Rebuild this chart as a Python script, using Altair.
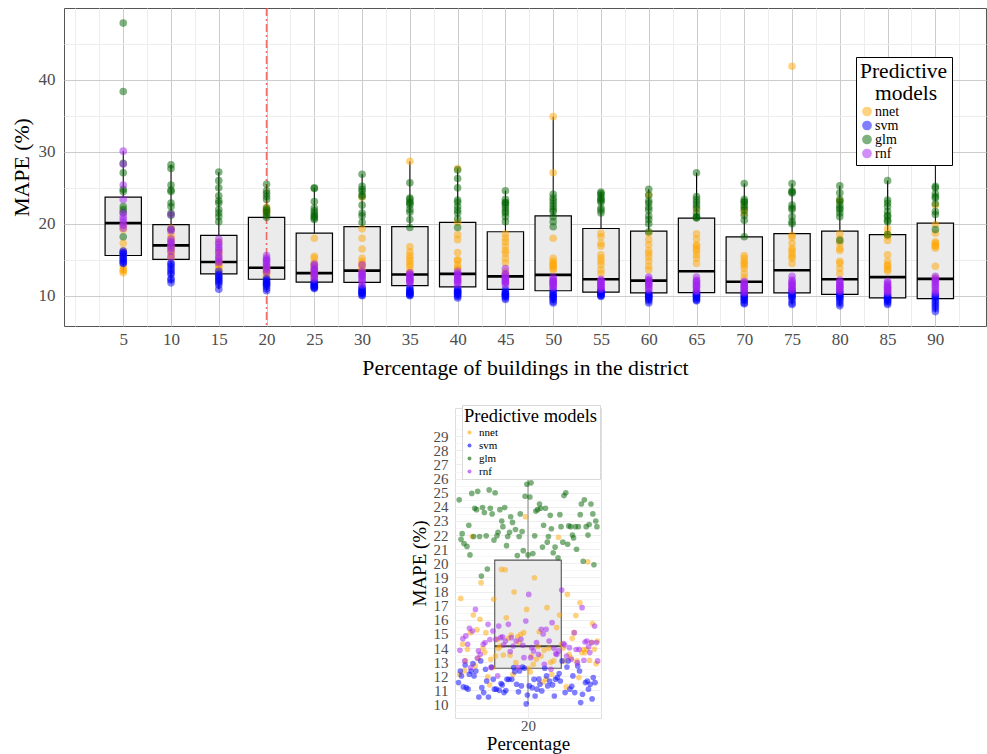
import altair as alt
import pandas as pd

FONT = "Liberation Serif"

models = ["nnet", "svm", "glm", "rnf"]
model_colors = ["#FFA500", "#0000FF", "#006400", "#A020F0"]

# ---------------- top panel: summary per percentage ----------------
categories = [5, 10, 15, 20, 25, 30, 35, 40, 45, 50, 55, 60, 65, 70, 75, 80, 85, 90]
box_q1 = [15.6, 15.05, 13.05, 12.3, 11.9, 11.85, 11.4, 11.25, 10.9, 10.7, 10.5, 10.4, 10.45, 10.4, 10.4, 10.2, 9.7, 9.6]
box_median = [20.1, 17.0, 14.7, 13.9, 13.15, 13.5, 12.95, 13.05, 12.7, 12.9, 12.3, 12.1, 13.4, 11.95, 13.55, 12.3, 12.6, 12.35]
box_q3 = [23.7, 19.9, 18.4, 20.9, 18.7, 19.6, 19.6, 20.2, 18.9, 21.1, 19.35, 19.0, 20.8, 18.2, 18.65, 19.0, 18.5, 20.1]
box_low = [13.2, 11.8, 10.9, 10.7, 11.0, 10.0, 10.0, 9.7, 9.5, 9.0, 9.9, 9.0, 9.3, 8.9, 8.8, 8.6, 8.8, 7.8]
box_high = [30.1, 28.2, 27.2, 25.5, 25.0, 26.9, 28.7, 27.7, 24.6, 34.9, 24.4, 24.8, 27.1, 25.6, 25.6, 25.3, 26.0, 28.6]

nnet_top = [
    [19.8, 19.2, 17.3, 16.3, 15.9, 14.1, 13.5, 13.2, 13.6, 15.5],
    [19.4, 18.5, 18.0, 16.9, 16.3, 15.9, 15.2, 15.6, 17.6, 16.6],
    [17.5, 15.8, 15.0, 14.5, 14.1, 13.8, 13.5, 13.1, 14.3, 16.2],
    [22.3, 21.9, 21.7, 14.0, 13.4, 13.2, 12.9, 13.8, 21.5, 12.6],
    [18.0, 15.5, 15.2, 14.6, 14.0, 13.5, 12.8, 12.5, 13.2, 14.3],
    [23.7, 19.3, 18.0, 15.2, 14.8, 14.5, 14.2, 13.9, 16.5, 13.6],
    [28.7, 16.8, 15.6, 15.2, 14.8, 14.4, 14.1, 13.5, 13.2, 16.1],
    [27.7, 20.2, 18.5, 17.8, 15.0, 14.9, 13.7, 13.9, 14.3, 16.0],
    [18.6, 18.0, 16.9, 15.9, 15.2, 14.6, 13.4, 12.9, 17.5, 16.3],
    [34.9, 27.1, 18.0, 14.8, 14.5, 14.3, 14.1, 13.8, 13.6, 15.2],
    [18.7, 17.3, 16.9, 15.7, 15.2, 14.3, 13.6, 13.1, 18.2, 14.8],
    [24.0, 18.7, 17.8, 17.1, 15.9, 14.8, 14.1, 13.6, 16.3, 15.4],
    [22.0, 17.9, 17.1, 16.9, 16.2, 15.7, 15.2, 14.5, 18.6, 16.5],
    [22.0, 15.6, 15.2, 14.8, 14.5, 13.8, 13.1, 12.5, 21.5, 14.2],
    [41.9, 18.4, 18.1, 17.3, 16.6, 15.9, 15.5, 15.2, 14.5, 16.3],
    [23.2, 18.6, 17.3, 16.6, 16.3, 14.8, 14.5, 13.8, 13.1, 17.9],
    [19.3, 18.6, 17.7, 15.7, 14.3, 14.1, 13.7, 13.4, 14.8, 18.3],
    [22.6, 19.9, 17.5, 17.3, 16.9, 16.6, 14.1, 18.7, 17.0, 12.5],
]
svm_top = [
    [16.0, 15.7, 15.4, 15.0, 14.8, 14.6, 15.2, 15.9, 14.5, 16.2],
    [14.4, 14.1, 13.5, 13.2, 13.0, 12.2, 11.8, 12.4, 13.8, 14.6],
    [13.4, 13.0, 12.6, 12.2, 12.0, 11.8, 11.5, 10.9, 12.4, 12.8],
    [12.4, 12.2, 11.9, 11.7, 11.5, 11.3, 11.0, 10.7, 12.0, 11.6],
    [12.0, 11.8, 11.6, 11.4, 11.2, 11.1, 11.0, 11.3, 11.5, 11.7],
    [11.2, 10.9, 10.7, 10.5, 10.3, 10.1, 10.0, 10.6, 11.0, 10.4],
    [11.2, 10.9, 10.6, 10.3, 10.1, 10.0, 10.5, 10.8, 10.4, 10.2],
    [11.0, 10.7, 10.5, 10.3, 10.1, 9.9, 9.7, 10.6, 10.2, 10.8],
    [10.9, 10.6, 10.4, 10.2, 10.0, 9.9, 9.7, 9.5, 10.1, 10.3],
    [10.8, 10.5, 10.3, 10.0, 9.8, 9.7, 9.5, 9.2, 9.0, 10.1],
    [10.7, 10.5, 10.4, 10.2, 10.0, 9.9, 10.3, 10.6, 10.1, 10.8],
    [10.4, 10.2, 10.0, 9.8, 9.5, 9.3, 9.0, 10.1, 9.7, 9.9],
    [10.5, 10.2, 10.0, 9.7, 9.4, 9.3, 9.9, 10.3, 9.6, 10.1],
    [10.6, 10.3, 10.0, 9.8, 9.6, 9.3, 9.0, 8.9, 10.1, 9.5],
    [10.8, 10.5, 10.2, 9.9, 9.7, 9.4, 9.0, 8.8, 10.0, 10.3],
    [10.6, 10.3, 10.0, 9.8, 9.5, 9.2, 8.9, 8.6, 10.1, 9.7],
    [10.3, 10.0, 9.8, 9.6, 9.4, 9.2, 9.0, 8.8, 9.9, 9.5],
    [10.3, 10.0, 9.7, 9.4, 9.1, 8.8, 8.5, 8.2, 7.8, 9.9],
]
glm_top = [
    [47.9, 38.4, 28.4, 27.1, 24.8, 24.5, 22.4, 22.0, 21.6, 18.2],
    [28.2, 27.7, 25.4, 24.7, 24.5, 22.9, 22.4, 21.5, 21.2, 19.2],
    [27.2, 26.0, 25.0, 23.9, 23.2, 22.9, 22.0, 21.5, 21.0, 20.3],
    [25.5, 24.6, 24.2, 23.8, 23.4, 22.2, 21.6, 21.2, 20.9, 21.9],
    [25.0, 24.9, 23.1, 22.2, 21.5, 21.2, 21.0, 20.8, 20.6, 21.8],
    [26.9, 25.2, 24.8, 24.5, 23.8, 22.6, 21.5, 21.1, 20.2, 24.0],
    [25.7, 23.6, 23.4, 23.0, 22.9, 22.0, 21.6, 20.6, 19.5, 22.6],
    [27.5, 26.3, 25.0, 23.3, 23.0, 21.9, 21.5, 20.7, 19.5, 22.4],
    [24.6, 23.4, 23.0, 22.6, 22.2, 21.5, 21.0, 20.3, 22.9, 21.8],
    [24.1, 23.6, 23.2, 22.8, 22.4, 21.7, 21.0, 20.3, 19.6, 22.0],
    [24.4, 24.2, 24.0, 23.4, 23.2, 23.0, 21.9, 21.5, 22.2, 23.6],
    [24.8, 24.0, 22.9, 22.3, 21.9, 21.1, 20.6, 20.0, 18.9, 23.2],
    [27.1, 23.8, 23.4, 23.0, 22.6, 22.2, 21.5, 21.0, 20.9, 20.8],
    [25.6, 23.4, 23.1, 22.6, 22.3, 21.9, 21.2, 20.5, 18.2, 23.0],
    [25.6, 24.6, 24.4, 24.3, 22.6, 22.2, 22.0, 21.0, 20.3, 20.0],
    [25.3, 24.3, 23.4, 23.1, 22.6, 22.2, 22.0, 21.0, 17.7, 21.5],
    [26.0, 23.3, 22.9, 22.4, 21.7, 21.2, 21.0, 20.5, 20.3, 18.5],
    [28.6, 25.2, 25.0, 23.8, 23.6, 22.8, 21.7, 21.3, 19.2, 24.2],
]
rnf_top = [
    [30.1, 28.3, 25.4, 23.4, 21.5, 20.6, 20.2, 19.4, 19.8, 21.0],
    [21.3, 19.3, 19.0, 17.9, 17.3, 17.0, 16.6, 16.2, 15.4, 17.5],
    [17.9, 17.4, 17.1, 16.7, 16.4, 16.0, 15.5, 14.8, 14.6, 15.2],
    [15.6, 15.2, 14.6, 14.4, 14.1, 13.9, 13.6, 14.9, 13.3, 15.0],
    [14.4, 14.2, 13.8, 13.5, 13.2, 12.9, 12.6, 12.3, 13.0, 13.6],
    [14.3, 13.4, 13.0, 12.7, 12.4, 12.2, 11.9, 11.5, 13.2, 12.8],
    [13.2, 12.9, 12.6, 12.3, 12.1, 11.9, 11.7, 12.5, 13.0, 12.2],
    [13.4, 13.1, 12.8, 12.6, 12.3, 12.0, 11.8, 11.5, 12.9, 12.2],
    [13.8, 12.9, 12.6, 12.3, 12.0, 11.8, 11.5, 12.4, 13.1, 11.9],
    [12.6, 12.3, 12.0, 11.8, 11.5, 11.3, 11.1, 12.2, 11.9, 11.6],
    [12.3, 12.0, 11.8, 11.5, 11.3, 11.1, 10.9, 12.1, 11.7, 11.4],
    [12.6, 12.3, 12.0, 11.8, 11.5, 11.3, 11.0, 10.8, 12.1, 11.6],
    [12.6, 12.2, 11.9, 11.6, 11.3, 11.1, 10.8, 10.6, 12.0, 11.4],
    [12.0, 11.7, 11.5, 11.3, 11.1, 10.9, 10.6, 10.4, 11.8, 11.2],
    [12.7, 12.2, 11.8, 11.6, 11.3, 11.1, 10.9, 10.7, 12.0, 11.5],
    [12.2, 11.9, 11.6, 11.4, 11.2, 11.0, 10.8, 10.6, 11.8, 11.3],
    [12.0, 11.6, 11.3, 11.1, 10.9, 10.6, 10.4, 11.8, 11.2, 10.8],
    [12.7, 12.4, 12.2, 11.8, 11.3, 11.0, 10.7, 10.4, 12.0, 11.5],
]
highlight_pct = 20

# ---------------- bottom panel: 20 % detail ----------------
detail_pct = 20
detail_q1, detail_median, detail_q3, detail_low, detail_high = 12.57, 14.13, 20.23, 10.05, 26.3

nnet_20 = [19.57, 20.11, 18.98, 18.63, 17.80, 17.97, 17.52, 16.86, 17.45, 17.21, 16.74, 16.34, 16.34, 16.15,
           15.73, 15.16, 15.09, 14.69, 14.39, 13.09, 12.15, 13.98, 13.68, 13.44, 13.28, 13.09, 14.93, 14.50,
           13.84, 13.21, 13.09, 15.09, 15.09, 15.45, 13.51, 13.14, 13.21, 13.98, 13.56, 12.97, 14.27, 13.98,
           13.44, 13.68, 12.57, 12.74, 14.27, 14.69, 13.91, 13.44, 11.96, 15.09, 14.97, 13.91, 13.09, 14.15,
           13.91, 12.85, 16.04, 11.25, 12.15, 12.15, 11.79, 12.62, 11.91, 23.3, 21.9, 21.85, 19.55, 14.4,
           14.1, 13.7, 13.3, 14.8, 12.4, 13.0, 14.6, 13.9, 12.3, 15.3, 14.0, 13.5, 12.9, 11.6, 11.4, 16.3]
svm_20 = [12.66, 12.15, 11.79, 11.39, 11.09, 10.61, 11.20, 13.09, 12.33, 12.03, 11.32, 11.09, 10.14, 10.68,
          12.03, 11.67, 11.79, 11.91, 11.44, 11.67, 12.03, 12.38, 11.20, 11.39, 11.01, 11.56, 11.20, 10.54,
          10.85, 11.79, 11.56, 12.57, 12.66, 12.74, 12.57, 12.38, 11.91, 10.85, 11.44, 11.09, 10.85, 11.09,
          11.44, 11.25, 11.67, 11.09, 10.73, 11.32, 12.38, 13.09, 11.79, 11.56, 10.97, 10.54, 10.85, 11.32,
          11.09, 10.61, 11.49, 11.67, 11.79, 13.09, 12.66, 12.62, 12.38, 12.03, 11.79, 12.38, 10.05, 12.9,
          12.2, 11.0, 10.4, 11.8, 12.5, 11.3, 10.9, 12.8]
glm_20 = [22.45, 22.2, 24.5, 25.7, 25.1, 24.8, 23.3, 22.6, 22.7, 23.9, 21.0, 20.9, 20.6, 26.15, 22.6, 22.75,
          23.7, 23.95, 22.65, 22.4, 22.1, 21.9, 25.0, 24.2, 20.6, 23.9, 22.6, 21.9, 19.9, 23.9, 19.6, 21.8,
          23.5, 21.2, 20.75, 23.8, 22.6, 20.7, 21.9, 25.0, 22.9, 24.5, 23.9, 23.5, 22.6, 24.75, 24.95, 20.4,
          23.95, 24.2, 23.8, 23.6, 22.6, 20.55, 21.4, 23.4, 21.95, 20.15, 24.7, 23.8, 21.5, 22.2, 23.0, 21.15,
          25.2, 22.6, 22.25, 22.7, 21.15, 23.0, 22.0, 21.95, 19.1, 21.35, 26.1, 21.7, 21.5, 21.65, 23.45,
          25.6, 21.9, 23.45, 21.25, 23.5, 24.2, 21.95, 22.0, 21.9]
rnf_20 = [14.86, 15.80, 15.56, 14.43, 14.03, 13.80, 14.22, 14.74, 13.09, 12.85, 12.62, 12.97, 13.32, 12.62,
          13.56, 14.22, 13.68, 14.39, 14.27, 14.03, 14.50, 14.67, 14.50, 14.62, 16.86, 17.80, 16.74, 18.11,
          15.68, 15.56, 15.33, 15.68, 15.09, 14.62, 14.27, 13.98, 14.74, 14.50, 13.80, 13.56, 13.44, 14.15,
          13.84, 15.33, 15.21, 13.91, 15.92, 15.21, 13.80, 14.50, 14.39, 13.56, 14.39, 13.21, 12.62, 13.09,
          12.50, 12.03, 13.14, 13.32, 13.28, 14.32, 13.75, 14.39, 15.0, 14.6, 13.9, 14.2, 15.4, 13.6, 14.8, 14.1]

# ---------------- tables ----------------
top_rows = []
for m, per_cat in zip(models, [nnet_top, svm_top, glm_top, rnf_top]):
    for c, vals in zip(categories, per_cat):
        for v in vals:
            top_rows.append({"pct": c, "model": m, "mape": v})
top_points = pd.DataFrame(top_rows)

top_box = pd.DataFrame({"pct": categories, "q1": box_q1, "med": box_median, "q3": box_q3,
                        "lo": box_low, "hi": box_high})

bot_rows = []
k = 0
for m, vals in zip(models, [nnet_20, svm_20, glm_20, rnf_20]):
    for v in vals:
        bot_rows.append({"model": m, "mape": v, "idx": k})
        k += 1
bottom_points = pd.DataFrame(bot_rows)
bottom_box = pd.DataFrame({"pct": [detail_pct], "q1": [detail_q1], "med": [detail_median],
                           "q3": [detail_q3], "lo": [detail_low], "hi": [detail_high]})

color_scale = alt.Scale(domain=models, range=model_colors)

# ---------------- top chart ----------------
TOP_X = alt.Scale(domain=[-1.2, 95.3], nice=False, zero=False)
TOP_Y = alt.Scale(domain=[5.8, 50], nice=False, zero=False)
BOX_HALF = 1.9
minor_x = [0] + [c - 2.5 for c in categories] + [92.5]
minor_y = [15, 25, 35, 45]

top_base_box = alt.Chart(top_box).transform_calculate(
    xlo=f"datum.pct - {BOX_HALF}", xhi=f"datum.pct + {BOX_HALF}")

boxes = top_base_box.mark_rect(fill="#EBEBEB", stroke="black", strokeWidth=1.2).encode(
    x=alt.X("xlo:Q", scale=TOP_X, axis=alt.Axis(orient="top", values=minor_x, labels=False, ticks=False,
                                                 domain=False, grid=True, gridColor="#EDEDED", title=None)),
    x2="xhi:Q",
    y=alt.Y("q1:Q", scale=TOP_Y, axis=alt.Axis(orient="right", values=minor_y, labels=False, ticks=False,
                                                domain=False, grid=True, gridColor="#EDEDED", title=None)),
    y2="q3:Q",
)
whisk_lo = alt.Chart(top_box).mark_rule(color="black", strokeWidth=1).encode(
    x=alt.X("pct:Q", scale=TOP_X, axis=None), y=alt.Y("lo:Q", scale=TOP_Y, axis=None), y2="q1:Q")
whisk_hi = alt.Chart(top_box).mark_rule(color="black", strokeWidth=1).encode(
    x=alt.X("pct:Q", scale=TOP_X, axis=None), y=alt.Y("q3:Q", scale=TOP_Y, axis=None), y2="hi:Q")
medians = top_base_box.mark_rule(color="black", strokeWidth=2.6).encode(
    x=alt.X("xlo:Q", scale=TOP_X, axis=None), x2="xhi:Q", y=alt.Y("med:Q", scale=TOP_Y, axis=None))
vline = alt.Chart(pd.DataFrame({"pct": [highlight_pct]})).mark_rule(
    color="#F03C3C", opacity=0.75, strokeWidth=1.6, strokeDash=[8, 3, 2, 3]).encode(
    x=alt.X("pct:Q", scale=TOP_X, axis=None))

top_pts = alt.Chart(top_points).mark_circle(size=58, opacity=0.5).encode(
    x=alt.X("pct:Q", scale=TOP_X,
            axis=alt.Axis(values=categories, format="d", title="Percentage of buildings in the district",
                          grid=True, gridColor="#CCCCCC", labelFont=FONT, titleFont=FONT,
                          labelFontSize=17, labelColor="#4D4D4D",
                          titleFontSize=21.8, titleColor="black", titleFontWeight="normal", ticks=False,
                          domain=False, labelPadding=5, titlePadding=10)),
    y=alt.Y("mape:Q", scale=TOP_Y,
            axis=alt.Axis(values=[10, 20, 30, 40], title="MAPE (%)", grid=True, gridColor="#CCCCCC",
                          labelFont=FONT, titleFont=FONT,
                          labelFontSize=17, labelColor="#4D4D4D", titleFontSize=21.8, titleColor="black",
                          titleFontWeight="normal", ticks=False, domain=False, labelPadding=9,
                          titlePadding=5)),
    color=alt.Color("model:N", scale=color_scale,
                    legend=alt.Legend(orient="none", legendX=792, legendY=49,
                                      title=["Predictive", "\u200b\u2002\u2009models"],
                                      titleFont=FONT, labelFont=FONT,
                                      titleFontSize=21.5, titleLineHeight=22, titleFontWeight="normal",
                                      titleAlign="left", titleAnchor="start", titleColor="black",
                                      titlePadding=0, labelFontSize=14, labelColor="black", labelOffset=1,
                                      symbolType="circle", symbolSize=95, symbolOpacity=0.5,
                                      symbolStrokeWidth=0, rowPadding=0, padding=4,
                                      fillColor="white", strokeColor="black")),
)

top = alt.layer(boxes, whisk_lo, whisk_hi, medians, vline, top_pts).resolve_axis(
    x="independent", y="independent").properties(
    width=922, height=318, view=alt.ViewBackground(stroke="#555555", strokeWidth=1))

# ---------------- bottom chart ----------------
BOT_X = alt.Scale(domain=[16.6, 23.4], nice=False, zero=False)
BOT_Y = alt.Scale(domain=[9.05, 31.0], nice=False, zero=False)
D_HALF = 1.55
JITTER = 6.5
bot_ticks = list(range(10, 30))
bot_minor = [t + 0.5 for t in range(9, 31)]

bbase = alt.Chart(bottom_box).transform_calculate(
    xlo=f"datum.pct - {D_HALF}", xhi=f"datum.pct + {D_HALF}")
b_box = bbase.mark_rect(fill="#EBEBEB", stroke="#555555", strokeWidth=1.1).encode(
    x=alt.X("xlo:Q", scale=BOT_X, axis=alt.Axis(orient="top", values=[], labels=False, ticks=False,
                                                 domain=False, grid=False, title=None)),
    x2="xhi:Q",
    y=alt.Y("q1:Q", scale=BOT_Y, axis=alt.Axis(orient="right", values=bot_minor, labels=False, ticks=False,
                                                domain=False, grid=True, gridColor="#F6F6F6", title=None)),
    y2="q3:Q",
)
b_wlo = alt.Chart(bottom_box).mark_rule(color="#999999", strokeWidth=1.2).encode(
    x=alt.X("pct:Q", scale=BOT_X, axis=None), y=alt.Y("lo:Q", scale=BOT_Y, axis=None), y2="q1:Q")
b_whi = alt.Chart(bottom_box).mark_rule(color="#999999", strokeWidth=1.2).encode(
    x=alt.X("pct:Q", scale=BOT_X, axis=None), y=alt.Y("q3:Q", scale=BOT_Y, axis=None), y2="hi:Q")
b_med = bbase.mark_rule(color="#444444", strokeWidth=2).encode(
    x=alt.X("xlo:Q", scale=BOT_X, axis=None), x2="xhi:Q", y=alt.Y("med:Q", scale=BOT_Y, axis=None))

b_pts = alt.Chart(bottom_points).transform_calculate(
    xj=f"{detail_pct} + ((datum.idx * 0.6180339887 + 0.31) % 1 - 0.5) * {JITTER}"
).mark_circle(size=32, opacity=0.5).encode(
    x=alt.X("xj:Q", scale=BOT_X,
            axis=alt.Axis(values=[detail_pct], title="Percentage", grid=True, gridColor="#EBEBEB",
                          labelFont=FONT, titleFont=FONT,
                          labelFontSize=15, labelColor="#4D4D4D", titleFontSize=19, titleColor="black",
                          titleFontWeight="normal", ticks=False, domain=False, labelPadding=0,
                          titlePadding=1)),
    y=alt.Y("mape:Q", scale=BOT_Y,
            axis=alt.Axis(values=bot_ticks, title="MAPE (%)", grid=True, gridColor="#EEEEEE",
                          labelFont=FONT, titleFont=FONT, labelOverlap=False,
                          labelFontSize=15, labelColor="#4D4D4D", titleFontSize=19, titleColor="black",
                          titleFontWeight="normal", ticks=False, domain=False, labelPadding=7,
                          titlePadding=4)),
    color=alt.Color("model:N", scale=color_scale,
                    legend=alt.Legend(orient="none", legendX=398, legendY=-3, title="Predictive models",
                                      titleFont=FONT, labelFont=FONT,
                                      titleFontSize=18.5, titleFontWeight="normal", titleColor="black",
                                      titlePadding=1.5, labelFontSize=11, labelColor="black", labelOffset=4,
                                      symbolType="circle", symbolSize=16, symbolOpacity=0.6,
                                      symbolStrokeWidth=0, rowPadding=1, padding=2,
                                      fillColor="white", strokeColor="#D9D9D9")),
)

bottom = alt.layer(b_box, b_wlo, b_whi, b_med, b_pts).resolve_axis(
    x="independent", y="independent").properties(
    width=146, height=310, view=alt.ViewBackground(stroke="#DDDDDD", strokeWidth=1))

spacer = alt.Chart(pd.DataFrame({"v": [0]})).mark_point(opacity=0).encode(
    x=alt.X("v:Q", axis=None), y=alt.Y("v:Q", axis=None)).properties(
    width=344, height=10, view=alt.ViewBackground(stroke="transparent"))

chart = alt.vconcat(
    top, alt.hconcat(spacer, bottom, spacing=0), spacing=24
).resolve_scale(x="independent", y="independent", color="independent").resolve_legend(
    color="independent"
).configure(
    font=FONT, padding={"left": 10, "top": 6, "right": 0, "bottom": 0}, background="white"
).configure_axis(labelFont=FONT, titleFont=FONT).configure_legend(labelFont=FONT, titleFont=FONT)

chart.save("out.html", embed_options={"renderer": "svg", "actions": False})
